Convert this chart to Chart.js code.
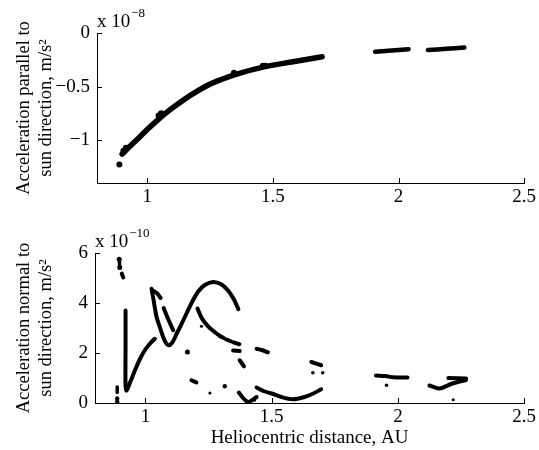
<!DOCTYPE html>
<html>
<head>
<meta charset="utf-8">
<script src="https://cdn.jsdelivr.net/npm/chart.js@4.4.1/dist/chart.umd.min.js"></script>
<style>
  body { margin: 0; background: #fff; }
  #wrap { position: relative; width: 539px; height: 450px; }
  .panel { position: absolute; left: 0; width: 539px; }
</style>
</head>
<body>
<div id="wrap">
  <div class="panel" style="top:0;height:210px"><canvas id="topChart" width="539" height="210"></canvas></div>
  <div class="panel" style="top:215px;height:235px"><canvas id="botChart" width="539" height="235"></canvas></div>
</div>
<script>
//////// data ////////
// x = heliocentric distance, AU

// top panel: acceleration parallel to sun direction, in units of 1e-8 m/s^2
const parMainDist = [0.900, 0.930, 0.970, 1.000, 1.040, 1.070, 1.100, 1.170, 1.235, 1.280, 1.350, 1.460, 1.580, 1.696];
const parMainAcc  = [-1.13, -1.06, -0.97, -0.90, -0.815, -0.755, -0.70, -0.585, -0.495, -0.447, -0.388, -0.318, -0.268, -0.222];
const parMidDist  = [1.907, 1.960, 2.040];
const parMidAcc   = [-0.175, -0.166, -0.152];
const parFarDist  = [2.117, 2.190, 2.262];
const parFarAcc   = [-0.159, -0.148, -0.136];
const parDotDist  = [0.889, 0.905, 0.915, 1.045, 1.055, 1.345, 1.460, 1.470];
const parDotAcc   = [-1.227, -1.10, -1.07, -0.77, -0.75, -0.37, -0.305, -0.305];

// bottom panel: acceleration normal to sun direction, in units of 1e-10 m/s^2
const normRiseDist = [0.921, 0.921, 0.921, 0.925, 0.940, 0.960, 0.980, 1.000, 1.020, 1.037];
const normRiseAcc  = [3.70, 2.20, 0.70, 0.50, 0.85, 1.35, 1.80, 2.15, 2.40, 2.57];
const normWaveDist = [1.024, 1.030, 1.044, 1.058, 1.070, 1.080, 1.090, 1.105, 1.125, 1.156, 1.180, 1.208, 1.235, 1.268, 1.300, 1.327, 1.350, 1.368];
const normWaveAcc  = [4.57, 4.24, 3.44, 3.00, 2.64, 2.42, 2.31, 2.40, 2.80, 3.44, 3.95, 4.45, 4.72, 4.84, 4.75, 4.50, 4.15, 3.75];
const normHookDist = [1.028, 1.045, 1.060];
const normHookAcc  = [4.50, 4.40, 4.20];
const normDashDist = [1.072, 1.090, 1.110];
const normDashAcc  = [3.80, 3.35, 2.91];
const normFallDist = [1.206, 1.220, 1.235, 1.255, 1.274, 1.295, 1.310];
const normFallAcc  = [3.78, 3.45, 3.22, 3.00, 2.84, 2.68, 2.60];
const normFall2Dist = [1.318, 1.340];
const normFall2Acc  = [2.55, 2.46];
const normFall3Dist = [1.350, 1.372];
const normFall3Acc  = [2.42, 2.35];
const normBit1Dist = [1.347, 1.373];
const normBit1Acc  = [2.10, 2.08];
const normBit2Dist = [1.373, 1.390];
const normBit2Acc  = [1.71, 1.47];
const normBit3Dist = [1.440, 1.460, 1.485];
const normBit3Acc  = [2.17, 2.12, 2.03];
const normBit4Dist = [1.182, 1.202];
const normBit4Acc  = [0.91, 0.82];
const normVeeDist  = [1.370, 1.385, 1.405, 1.420, 1.440];
const normVeeAcc   = [0.42, 0.22, 0.04, 0.10, 0.24];
const normBowlDist = [1.440, 1.470, 1.500, 1.538, 1.584, 1.630, 1.665, 1.696];
const normBowlAcc  = [0.62, 0.47, 0.38, 0.24, 0.15, 0.24, 0.38, 0.55];
const normBit5Dist = [1.657, 1.696];
const normBit5Acc  = [1.64, 1.51];
const normBit6Dist = [1.913, 1.950, 1.980, 2.038];
const normBit6Acc  = [1.10, 1.08, 1.03, 1.02];
const normHook2Dist = [2.125, 2.164, 2.216, 2.270];
const normHook2Acc  = [0.70, 0.58, 0.78, 0.92];
const normHook3Dist = [2.200, 2.270];
const normHook3Acc  = [1.00, 0.98];
const normEdgeTopDist = [0.896, 0.898];
const normEdgeTopAcc  = [5.75, 5.42];
const normEdgeDashDist = [0.906, 0.912];
const normEdgeDashAcc  = [5.18, 5.02];
const normEdgeLowDist = [0.888, 0.888];
const normEdgeLowAcc  = [0.64, 0.42];
const normDotDist = [0.896, 0.898, 0.888, 0.888, 1.166, 1.222, 1.255, 1.314, 1.432, 1.663, 1.702, 1.955, 2.219];
const normDotAcc  = [5.75, 5.42, 0.18, 0.05, 2.04, 3.07, 0.40, 0.67, 0.11, 1.21, 1.21, 0.71, 0.13];
const normDotSize = [2.5, 2.5, 2.2, 2.2, 2.5, 1.6, 1.5, 2.2, 1.5, 1.8, 1.8, 1.8, 1.5];

// tick labels
const distTicks = [1, 1.5, 2, 2.5];
const parTicks  = [0, -0.5, -1];
const normTicks = [0, 2, 4, 6];

//////// helpers ////////
const FONT = "'Liberation Serif', 'Times New Roman', serif";

function pts(xs, ys) {
  return xs.map((x, i) => ({ x: x, y: ys[i] }));
}
// a continuous stroke of the plotted track
function seg(xs, ys, w) {
  return {
    data: pts(xs, ys),
    showLine: true,
    borderColor: '#000',
    borderWidth: w,
    borderCapStyle: 'round',
    borderJoinStyle: 'round',
    tension: 0.3,
    pointRadius: 0,
  };
}
function dots(xs, ys, r) {
  return {
    data: pts(xs, ys),
    showLine: false,
    backgroundColor: '#000',
    borderWidth: 0,
    pointRadius: r,
  };
}
function fmt(v) {
  return String(v).replace('-', '\u2212');
}

// MATLAB style: ticks point inward, plus the "x 10^n" factor
const inwardTicks = {
  id: 'inwardTicks',
  afterDraw(chart, args, opts) {
    const { ctx, chartArea, scales } = chart;
    const x = scales.x, y = scales.y;
    ctx.save();
    ctx.strokeStyle = '#000';
    ctx.lineWidth = 1;
    x.ticks.forEach(t => {
      const px = Math.round(x.getPixelForValue(t.value)) + 0.5;
      ctx.beginPath();
      ctx.moveTo(px, chartArea.bottom);
      ctx.lineTo(px, chartArea.bottom - 5);
      ctx.stroke();
    });
    y.ticks.forEach(t => {
      const py = Math.round(y.getPixelForValue(t.value)) + 0.5;
      ctx.beginPath();
      ctx.moveTo(chartArea.left, py);
      ctx.lineTo(chartArea.left + 5, py);
      ctx.stroke();
    });
    // exponent label
    ctx.fillStyle = '#000';
    ctx.textBaseline = 'alphabetic';
    ctx.textAlign = 'left';
    ctx.font = '19px ' + FONT;
    const base = chartArea.top - 6;
    ctx.fillText('x 10', chartArea.left, base);
    const w = ctx.measureText('x 10').width;
    ctx.font = '13px ' + FONT;
    ctx.fillText(opts.exp, chartArea.left + w + 1, base - 10);
    ctx.restore();
  }
};

function makeChart(id, datasets, cfg) {
  return new Chart(document.getElementById(id), {
    type: 'scatter',
    data: { datasets: datasets },
    plugins: [inwardTicks],
    options: {
      responsive: false,
      animation: false,
      devicePixelRatio: 1,
      layout: { padding: { top: cfg.padTop, right: 13, left: 0, bottom: 0 } },
      plugins: {
        legend: { display: false },
        tooltip: { enabled: false },
        inwardTicks: { exp: cfg.exp }
      },
      scales: {
        x: {
          type: 'linear',
          min: 0.8,
          max: 2.5,
          grid: { display: false, drawTicks: false, tickLength: 0 },
          border: { display: true, color: '#000', width: 1 },
          afterBuildTicks: s => { s.ticks = distTicks.map(v => ({ value: v })); },
          afterFit: s => { s.height = cfg.xHeight; },
          ticks: {
            color: '#000',
            padding: 3,
            font: { family: FONT, size: 19 },
            callback: v => fmt(v)
          },
          title: {
            display: !!cfg.xTitle,
            text: cfg.xTitle || '',
            color: '#000',
            font: { family: FONT, size: 19 },
            padding: { top: 0, bottom: 1 }
          }
        },
        y: {
          type: 'linear',
          min: cfg.yMin,
          max: cfg.yMax,
          grid: { display: false, drawTicks: false, tickLength: 0 },
          border: { display: true, color: '#000', width: 1 },
          afterBuildTicks: s => { s.ticks = cfg.yTicks.map(v => ({ value: v })); },
          afterFit: s => { s.width = cfg.yWidth; },
          ticks: {
            color: '#000',
            padding: 7,
            font: { family: FONT, size: 19 },
            callback: v => fmt(v)
          },
          title: {
            display: true,
            text: cfg.yTitle,
            color: '#000',
            font: { family: FONT, size: 18.5, lineHeight: 1.2 },
            padding: { top: 13, bottom: 0 }
          }
        }
      }
    }
  });
}

//////// top panel ////////
makeChart('topChart', [
  seg(parMainDist, parMainAcc, 5.5),
  seg(parMidDist, parMidAcc, 4.5),
  seg(parFarDist, parFarAcc, 4.5),
  dots(parDotDist, parDotAcc, 3)
], {
  padTop: 33, xHeight: 27, yWidth: 97,
  yMin: -1.4, yMax: 0, yTicks: parTicks,
  exp: '\u22128',
  yTitle: ['Acceleration parallel to', 'sun direction, m/s\u00b2']
});

//////// bottom panel ////////
const W = 4;
makeChart('botChart', [
  seg(normRiseDist, normRiseAcc, W),
  seg(normWaveDist, normWaveAcc, W),
  seg(normHookDist, normHookAcc, W),
  seg(normDashDist, normDashAcc, W),
  seg(normFallDist, normFallAcc, W),
  seg(normFall2Dist, normFall2Acc, W),
  seg(normFall3Dist, normFall3Acc, W),
  seg(normBit1Dist, normBit1Acc, W),
  seg(normBit2Dist, normBit2Acc, W),
  seg(normBit3Dist, normBit3Acc, W),
  seg(normBit4Dist, normBit4Acc, W),
  seg(normVeeDist, normVeeAcc, W),
  seg(normBowlDist, normBowlAcc, W),
  seg(normBit5Dist, normBit5Acc, W),
  seg(normBit6Dist, normBit6Acc, W),
  seg(normHook2Dist, normHook2Acc, W),
  seg(normHook3Dist, normHook3Acc, W),
  seg(normEdgeTopDist, normEdgeTopAcc, 3.5),
  seg(normEdgeDashDist, normEdgeDashAcc, W),
  seg(normEdgeLowDist, normEdgeLowAcc, 3.5),
  { ...dots(normDotDist, normDotAcc, 2), pointRadius: normDotSize }
], {
  padTop: 38, xHeight: 47, yWidth: 95,
  yMin: 0, yMax: 6, yTicks: normTicks,
  exp: '\u221210',
  xTitle: 'Heliocentric distance, AU',
  yTitle: ['Acceleration normal to', 'sun direction, m/s\u00b2']
});
</script>
</body>
</html>
